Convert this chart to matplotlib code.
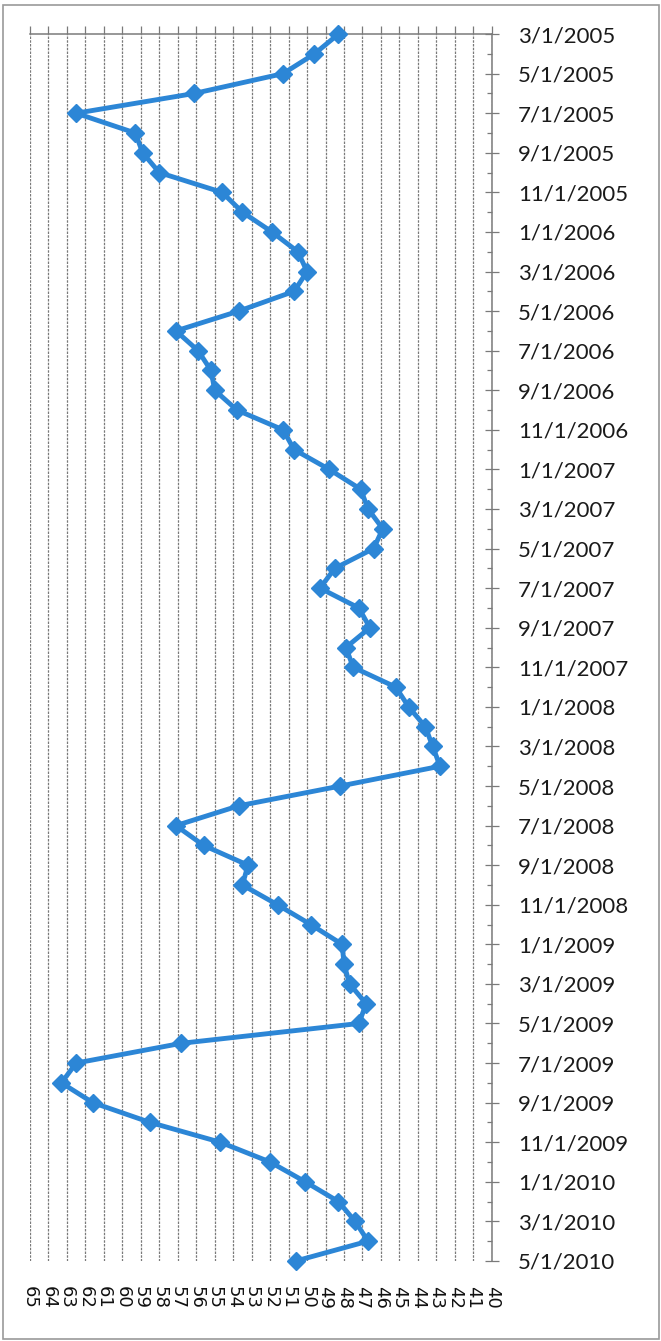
import numpy as np
import matplotlib
matplotlib.use('Agg')
import matplotlib.pyplot as plt
from matplotlib.patches import Rectangle


# values, one per month from 3/1/2005 to 5/1/2010
vals = [48.3, 49.6, 51.3, 56.1, 62.5, 59.3, 58.9, 58.0, 54.6, 53.5,
        51.9, 50.5, 50.0, 50.7, 53.7, 57.1, 55.9, 55.2, 55.0, 53.8,
        51.3, 50.7, 48.8, 47.1, 46.7, 45.9, 46.4, 48.5, 49.3, 47.2,
        46.6, 47.9, 47.5, 45.2, 44.5, 43.6, 43.2, 42.8, 48.2, 53.7,
        57.1, 55.6, 53.2, 53.5, 51.6, 49.8, 48.1, 48.0, 47.7, 46.8,
        47.2, 56.8, 62.5, 63.3, 61.6, 58.5, 54.7, 52.0, 50.1, 48.3,
        47.4, 46.7, 50.6]

date_labels = ['3/1/2005', '5/1/2005', '7/1/2005', '9/1/2005', '11/1/2005',
               '1/1/2006', '3/1/2006', '5/1/2006', '7/1/2006', '9/1/2006', '11/1/2006',
               '1/1/2007', '3/1/2007', '5/1/2007', '7/1/2007', '9/1/2007', '11/1/2007',
               '1/1/2008', '3/1/2008', '5/1/2008', '7/1/2008', '9/1/2008', '11/1/2008',
               '1/1/2009', '3/1/2009', '5/1/2009', '7/1/2009', '9/1/2009', '11/1/2009',
               '1/1/2010', '3/1/2010', '5/1/2010']

value_ticks = list(range(40, 66))

grid_col = '#7a7a7a'
line_col = '#2c86d6'

fig = plt.figure(figsize=(6.61, 13.41), dpi=100)
ax = fig.add_axes([0.0454, 0.0597, 0.6986, 0.9149])

months = np.arange(len(vals))
ax.plot(vals, months, color=line_col, linewidth=3.5, marker='D', markersize=9,
        markerfacecolor=line_col, markeredgecolor=line_col, zorder=3, clip_on=False)

ax.set_xlim(65, 40)
ax.set_ylim(len(vals) - 1, 0)

# value axis: ticks on top line, labels at the bottom turned sideways
ax.set_xticks(value_ticks)
ax.set_xticklabels([str(v) for v in value_ticks], rotation=-90, fontsize=13,
                   family='DejaVu Sans', color='#111111')
ax.tick_params(axis='x', top=True, bottom=False, labeltop=False, labelbottom=True,
               direction='out', length=6, width=0.9, color=grid_col, pad=12)
ax.grid(axis='x', color=grid_col, linestyle=(0, (2, 1)), linewidth=0.9)

# date axis on the right
ax.yaxis.tick_right()
ax.set_yticks(months[::2])
ax.set_yticklabels(date_labels, fontsize=16, family='Lato', color='#1a1a1a')
ax.set_yticks(months, minor=True)
ax.tick_params(axis='y', which='major', direction='inout', length=9.5, width=0.9,
               color=grid_col, pad=14, left=False)
ax.tick_params(axis='y', which='minor', direction='in', length=3.6, width=0.9,
               color=grid_col, left=False)

for s in ['left', 'bottom']:
    ax.spines[s].set_visible(False)
for s in ['top', 'right']:
    ax.spines[s].set_color(grid_col)
    ax.spines[s].set_linewidth(1.1)

# chart frame
fig.patches.append(Rectangle((3 / 661, 2 / 1341), 656 / 661, 1334 / 1341,
                             transform=fig.transFigure, fill=False,
                             edgecolor='#9a9a9a', linewidth=1.2))

fig.savefig('out.png', dpi=100)
